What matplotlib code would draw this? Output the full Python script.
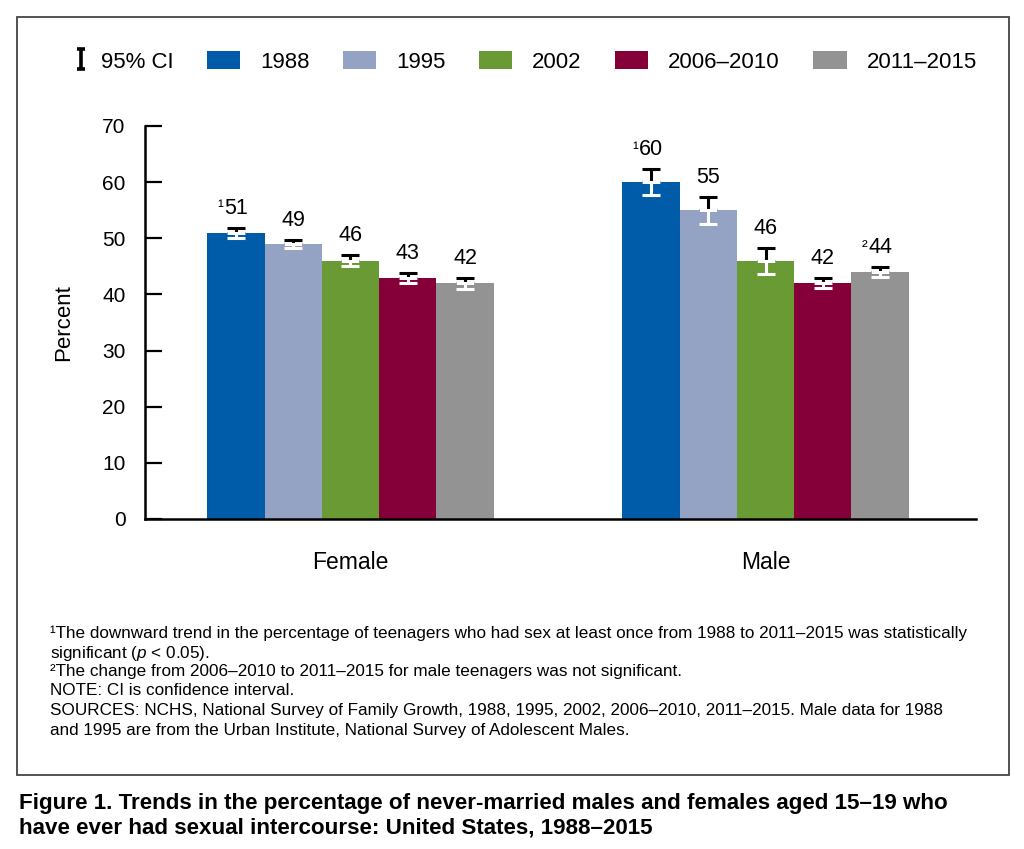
import matplotlib
matplotlib.use("Agg")
import matplotlib.pyplot as plt
from matplotlib.lines import Line2D
from matplotlib.patches import Patch, Rectangle
from matplotlib.path import Path
from matplotlib.legend_handler import HandlerLine2D
import numpy as np

# data (percent, +/- half-width of 95% CI)
GROUPS = ["Female", "Male"]
PERIODS = ["1988", "1995", "2002", "2006–2010", "2011–2015"]
FEMALE = [51, 49, 46, 43, 42]
MALE = [60, 55, 46, 42, 44]
FEMALE_CI = [0.9, 0.7, 1.0, 0.9, 1.0]
MALE_CI = [2.3, 2.4, 2.3, 0.9, 0.9]
FEMALE_NOTE = ["1", "", "", "", ""]
MALE_NOTE = ["1", "", "", "", "2"]
COLORS = ["#005ca9", "#94a3c3", "#6a9a33", "#850038", "#939393"]

SUP = {"1": "¹", "2": "²"}
plt.rcParams["font.family"] = ["Liberation Sans", "DejaVu Sans"]
plt.rcParams["mathtext.fontset"] = "custom"
plt.rcParams["mathtext.it"] = "Liberation Sans:italic"
plt.rcParams["mathtext.rm"] = "Liberation Sans"

fig = plt.figure(figsize=(10.24, 8.49), dpi=100)
ax = fig.add_axes([0.1416, 0.3887, 0.8115, 0.4629])

vals = np.array([FEMALE, MALE]).T
cis = np.array([FEMALE_CI, MALE_CI]).T
notes = np.array([FEMALE_NOTE, MALE_NOTE]).T
x = np.arange(len(GROUPS))
w = 0.138
for i, p in enumerate(PERIODS):
    xi = x + (i - 2) * w
    ax.bar(xi, vals[i], w, color=COLORS[i], zorder=2)
    # CI: part above bar black, part inside bar white
    ax.errorbar(xi, vals[i], yerr=[np.zeros(2), cis[i]], fmt="none", ecolor="black",
                elinewidth=2.2, capsize=6.2, capthick=2.2, zorder=3)
    ax.errorbar(xi, vals[i], yerr=[cis[i], np.zeros(2)], fmt="none", ecolor="white",
                elinewidth=2.2, capsize=6.2, capthick=2.2, zorder=3)
    for j in range(2):
        top = vals[i][j] + cis[i][j]
        ax.annotate(f"{vals[i][j]}", (xi[j], top), xytext=(0, 10), textcoords="offset points",
                    ha="center", va="baseline", fontsize=15.5)
        if notes[i][j]:
            ax.annotate(SUP[notes[i][j]], (xi[j], top), xytext=(-9, 11),
                        textcoords="offset points", ha="right", va="baseline", fontsize=12.5)

ax.set_xlim(-0.495, 1.507)
ax.set_ylim(0, 70)
ax.set_yticks(range(0, 71, 10))
ax.set_xticks(x)
ax.set_xticklabels(GROUPS, fontsize=16.5)
ax.tick_params(axis="x", length=0, pad=23)
ax.tick_params(axis="y", direction="in", length=12, width=1.6, pad=14, labelsize=15)
ax.set_ylabel("Percent", fontsize=16, labelpad=20)
for sp in ("top", "right"):
    ax.spines[sp].set_visible(False)
for sp in ("left", "bottom"):
    ax.spines[sp].set_linewidth(1.8)


class RightGlyph(HandlerLine2D):
    # put the CI glyph at the right end of its handle box, close to its text
    def create_artists(self, legend, orig_handle, xdescent, ydescent, width, height, fontsize, trans):
        arts = super().create_artists(legend, orig_handle, xdescent, ydescent, width, height,
                                      fontsize, trans)
        for a in arts:
            a.set_xdata(np.asarray(a.get_xdata()) + width * 0.5)
        return arts


ibeam = Path([(-0.45, 1), (0.45, 1), (0, 1), (0, -1), (-0.45, -1), (0.45, -1)],
             [Path.MOVETO, Path.LINETO, Path.MOVETO, Path.LINETO, Path.MOVETO, Path.LINETO])
ci_handle = Line2D([], [], ls="none", marker=ibeam, markersize=14, mec="black", mew=2.6)
handles = [ci_handle] + [Patch(facecolor=c) for c in COLORS]
fig.legend(handles, ["95% CI"] + PERIODS, loc="center", bbox_to_anchor=(0.5, 0.927),
           ncol=6, frameon=False, fontsize=16, handlelength=1.5, handleheight=0.9,
           handletextpad=0.9, columnspacing=1.5, handler_map={ci_handle: RightGlyph()})

# frame around chart + notes
fig.patches.append(Rectangle((0.0163, 0.0872), 0.9695, 0.8928, transform=fig.transFigure,
                             fill=False, edgecolor="#444444", lw=1.3))

NOTE_LINES = [
    "¹The downward trend in the percentage of teenagers who had sex at least once from 1988 to 2011–2015 was statistically",
    "significant ($\\it{p}$ < 0.05).",
    "²The change from 2006–2010 to 2011–2015 for male teenagers was not significant.",
    "NOTE: CI is confidence interval.",
    "SOURCES: NCHS, National Survey of Family Growth, 1988, 1995, 2002, 2006–2010, 2011–2015. Male data for 1988",
    "and 1995 are from the Urban Institute, National Survey of Adolescent Males.",
]
NOTE_Y = [632, 651, 670, 689, 709, 729]
for line, yp in zip(NOTE_LINES, NOTE_Y):
    fig.text(0.049, 1 - yp / 849, line, ha="left", va="center_baseline", fontsize=12.3)

fig.text(0.019, 1 - 803 / 849, "Figure 1. Trends in the percentage of never-married males and females aged 15–19 who",
         ha="left", va="center", fontsize=16.1, fontweight="bold")
fig.text(0.019, 1 - 828 / 849, "have ever had sexual intercourse: United States, 1988–2015",
         ha="left", va="center", fontsize=16.1, fontweight="bold")

fig.savefig("out.png", dpi=100, facecolor="white")
